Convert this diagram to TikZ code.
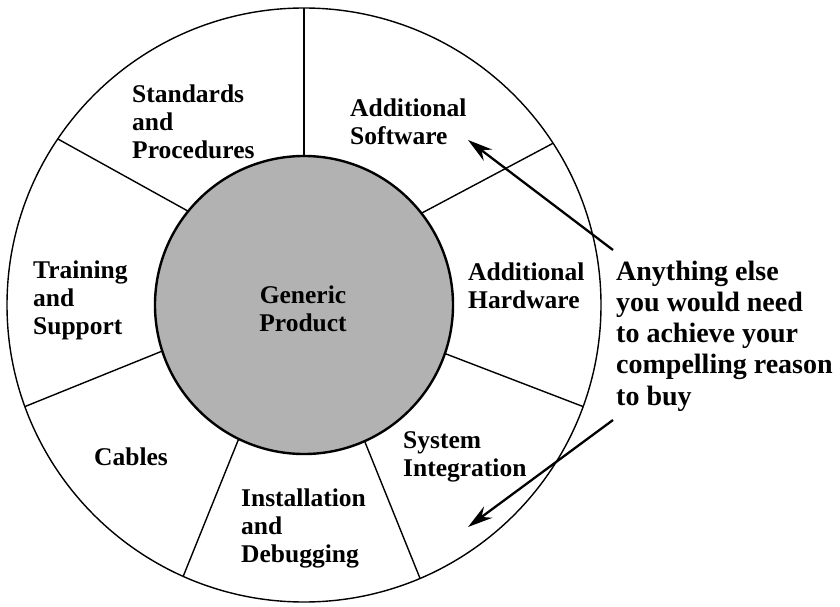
\documentclass[tikz,border=0pt]{standalone}
\usepackage{fontspec}
\setmainfont{Liberation Serif}
\usetikzlibrary{arrows.meta}
\tikzset{
  lbl/.style={align=left, anchor=west, inner sep=0pt, font=\fontsize{25.5}{28}\selectfont\bfseries},
  ring/.style={circle, draw, inner sep=0pt, outer sep=0pt},
  divider/.style={line width=1.4pt},
  pointer/.style={line width=2.3pt, -{Stealth[length=25pt,width=14pt]}}
}
\begin{document}
\begin{tikzpicture}[x=1pt,y=-1pt]
\useasboundingbox (0,0) rectangle (840,607);
\coordinate (c) at (304,305);
\node[ring, line width=1.4pt, minimum size=594pt] (outer) at (c) {};
\node[ring, line width=2.4pt, fill=gray!60!white, minimum size=298pt] (inner) at (c) {};
\draw[divider] (inner.90) -- (outer.90);
\draw[divider] (inner.141.2) -- (outer.146.2);
\draw[divider] (inner.198.4) -- (outer.200.2);
\draw[divider] (inner.244.3) -- (outer.246);
\draw[divider] (inner.294.6) -- (outer.293.6);
\draw[divider] (inner.341.8) -- (outer.340);
\draw[divider] (inner.38.4) -- (outer.33.5);
\node[lbl] (std) at (132,122) {Standards\\and\\Procedures};
\node[lbl] (asw) at (350,122) {Additional\\Software};
\node[lbl] (trn) at (33,300) {Training\\and\\Support};
\node[lbl, align=center, anchor=center] (gen) at (303,309) {Generic\\Product};
\node[lbl] (ahw) at (468,286) {Additional\\Hardware};
\node[lbl, anchor=center] (cab) at (131,457) {Cables};
\node[lbl] (sys) at (403,457) {System\\Integration};
\node[lbl] (ins) at (241,528) {Installation\\and\\Debugging};
\node[lbl, font=\fontsize{28}{31.2}\selectfont\bfseries] (any) at (616,336) {Anything else\\you would need\\to achieve your\\compelling reason\\to buy};
\coordinate (t1) at (613,250);
\coordinate (h1) at (468,140);
\coordinate (t2) at (613,420);
\coordinate (h2) at (468,527);
\draw[pointer] (t1) -- (h1);
\draw[pointer] (t2) -- (h2);
\end{tikzpicture}
\end{document}
